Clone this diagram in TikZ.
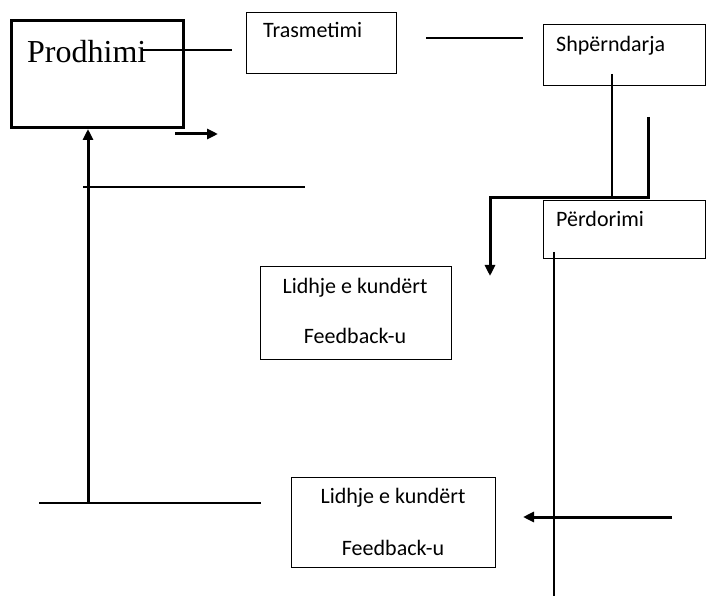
\documentclass[tikz,border=0pt]{standalone}
\usepackage{fontspec}
\setmainfont{Carlito}
\newfontfamily\serifbox{Liberation Serif}
\usetikzlibrary{arrows.meta, positioning}

\begin{document}
\begin{tikzpicture} [x=1pt, y=-1pt,
            box/.style = {draw, line width=1.3pt, anchor=north west,
                inner sep=0pt},
            label/.style = {anchor=base west, inner sep=0pt,
                font=\fontsize{22}{26}\selectfont},
            middle/.style = {anchor=base, inner sep=0pt,
                font=\fontsize{22}{26}\selectfont},
            thin line/.style = {line width=1.3pt},
            thick line/.style = {line width=3pt},
            flow/.style = {thick line, -{Triangle[length=11pt, width=10pt]}}]
            \useasboundingbox (0,0) rectangle (707,596);

            % Box Prodhimi
            \node (prod) [box, line width=3pt,
                minimum width=172pt,
                minimum height=107pt] at (10,19) {};
            \node (prodtext) [anchor=base west, inner sep=0pt,
                font=\serifbox\fontsize{32}{36}\selectfont] at (27,63) {Prodhimi};

            % Box Trasmetimi
            \node (tras) [box,
                minimum width=150pt,
                minimum height=61pt] at (246,12) {};
            \node (trastext) [label] at (263,38) {Trasmetimi};

            % Box Shperndarja
            \node (shp) [box,
                minimum width=162pt,
                minimum height=61pt] at (543,24) {};
            \node (shptext) [label] at (556,52) {Shpërndarja};

            % Box Perdorimi
            \node (perd) [box,
                minimum width=162pt,
                minimum height=58pt] at (543,200) {};
            \node (perdtext) [label] at (556,227) {Përdorimi};

            % Box Feedback 1
            \node (fbone) [box,
                minimum width=191pt,
                minimum height=93pt] at (260,266) {};
            \node (fbonea) [middle] at (355,293) {Lidhje e kundërt};
            \node (fboneb) [middle] at (355,343) {Feedback-u};

            % Box Feedback 2
            \node (fbtwo) [box,
                minimum width=204pt,
                minimum height=90pt] at (291,477) {};
            \node (fbtwoa) [middle] at (393,503) {Lidhje e kundërt};
            \node (fbtwob) [middle] at (393,555) {Feedback-u};

            % Loose ends
            \coordinate (a1) at (143,50);
            \coordinate (a2) at (232,50);
            \coordinate (b1) at (426,38);
            \coordinate (b2) at (523,38);
            \coordinate (c1) at (612,74);
            \coordinate (c2) at (612,198);
            \coordinate (d1) at (648,117);
            \coordinate (d2) at (648,198);
            \coordinate (d3) at (490,198);
            \coordinate (d4) at (490,276);
            \coordinate (e1) at (554,252);
            \coordinate (e2) at (554,596);
            \coordinate (f1) at (88,503);
            \coordinate (g1) at (39,503);
            \coordinate (g2) at (261,503);
            \coordinate (h1) at (83,187);
            \coordinate (h2) at (305,187);
            \coordinate (k1) at (175,134);
            \coordinate (k2) at (218,134);
            \coordinate (m1) at (672,517);
            \coordinate (m2) at (523,517);

            % Lines
            \draw [thin line] (a1) -- (a2);
            \draw [thin line] (b1) -- (b2);
            \draw [thin line] (c1) -- (c2);
            \draw [thin line] (e1) -- (e2);
            \draw [thin line] (g1) -- (g2);
            \draw [thin line] (h1) -- (h2);

            % Arrows
            \draw [flow] (d1) -- (d2) -- (d3) -- (d4);
            \draw [flow] (f1) -- (f1 |- prod.south);
            \draw [flow] (k1) -- (k2);
            \draw [flow] (m1) -- (m2);
        \end{tikzpicture}
\end{document}
